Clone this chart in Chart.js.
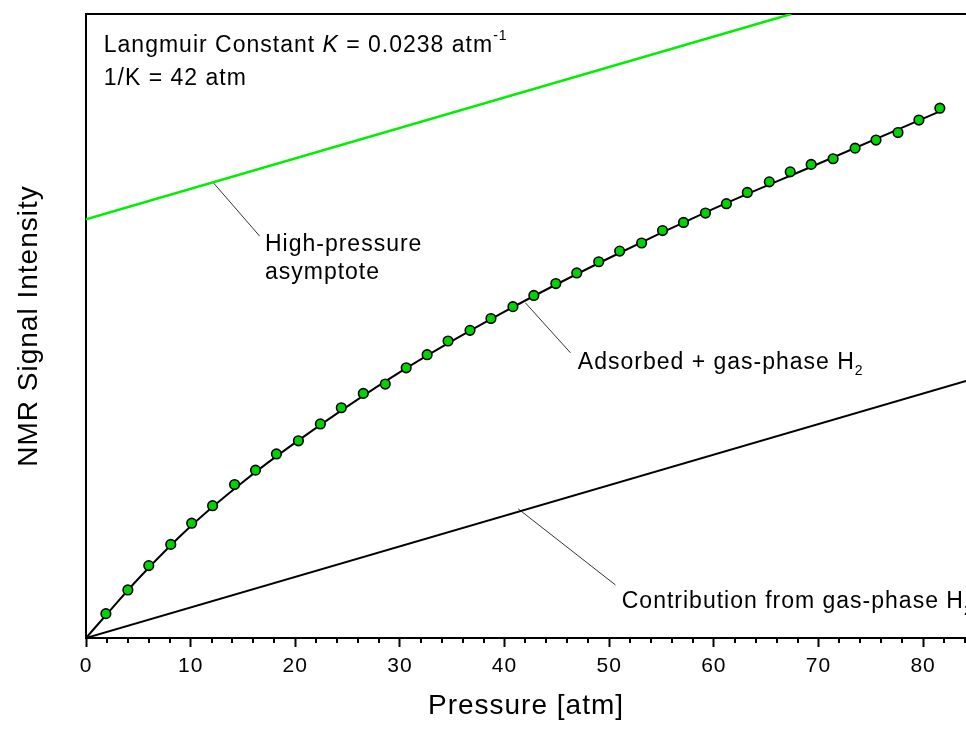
<!DOCTYPE html>
<html>
<head>
<meta charset="utf-8">
<script src="https://cdn.jsdelivr.net/npm/chart.js@4"></script>
<style>
  html, body { margin: 0; padding: 0; background: #fff; }
  #wrap { width: 966px; height: 740px; }
</style>
</head>
<body>
<div id="wrap"><canvas id="nmr-chart" width="966" height="740"></canvas></div>
<script>
// measured points (pressure in atm, signal in arbitrary units 0..100)
const pressure = [1.9, 4.0, 6.0, 8.1, 10.1, 12.1, 14.2, 16.2, 18.2, 20.3, 22.4, 24.4, 26.5, 28.6, 30.6, 32.6, 34.6, 36.7, 38.7, 40.8,
    42.8, 44.9, 46.9, 49.0, 51.0, 53.1, 55.1, 57.1, 59.2, 61.2, 63.2, 65.3, 67.3, 69.3, 71.4, 73.5, 75.5, 77.6, 79.6, 81.6];
const signal = [3.9, 7.7, 11.6, 15.0, 18.4, 21.2, 24.6, 26.9, 29.5, 31.6, 34.3, 36.9, 39.2, 40.7, 43.3, 45.4, 47.6, 49.3, 51.2, 53.1,
    54.9, 56.8, 58.5, 60.3, 62.0, 63.3, 65.3, 66.6, 68.1, 69.6, 71.4, 73.1, 74.7, 75.9, 76.8, 78.5, 79.8, 81.0, 83.0, 84.9];

// fitted curve
const fitP = [0, 2.5, 5, 10, 15, 20, 30, 40, 50, 60, 70, 81.6];
const fitS = [0, 4.8, 9.5, 17.9, 25.0, 31.3, 42.6, 52.3, 60.9, 68.8, 76.0, 84.4];

// high-pressure asymptote (green) and gas-phase contribution (black)
const asymP = [0, 67.4], asymS = [67.1, 100];
const gasP = [0, 84.1], gasS = [0, 41.2];

// leader lines from the curves to their labels
const leaderHigh = [[12.2, 72.9], [16.6, 64.4]];
const leaderAds = [[42.0, 53.7], [46.3, 45.7]];
const leaderGas = [[41.3, 20.7], [50.6, 8.5]];

const xTicks = [0, 10, 20, 30, 40, 50, 60, 70, 80];
const xMax = 84.1, yMax = 100;

const toXY = (xs, ys) => xs.map((x, i) => ({ x: x, y: ys[i] }));
const pairs = (arr) => arr.map(p => ({ x: p[0], y: p[1] }));

const FONT = "Arial, 'Liberation Sans', sans-serif";

// text labels, placed in data coordinates
const labels = [
    { x: 1.7, y: 95.0, runs: [["Langmuir Constant ", ""], ["K", "i"], [" = 0.0238 atm", ""], ["-1", "sup"]] },
    { x: 1.7, y: 89.7, runs: [["1/K = 42 atm", ""]] },
    { x: 17.1, y: 63.1, runs: [["High-pressure", ""]] },
    { x: 17.1, y: 58.6, runs: [["asymptote", ""]] },
    { x: 47.0, y: 44.2, runs: [["Adsorbed + gas-phase H", ""], ["2", "sub"]] },
    { x: 51.2, y: 5.8, runs: [["Contribution from gas-phase H", ""], ["2", "sub"]] },
];

// the original text is set a little wider than plain Arial
const spacingPlugin = {
    id: "spacing",
    beforeDraw(chart) { chart.ctx.letterSpacing = "1px"; }
};

const labelPlugin = {
    id: "labels",
    afterDatasetsDraw(chart) {
        const ctx = chart.ctx, xs = chart.scales.x, ys = chart.scales.y;
        ctx.save();
        ctx.fillStyle = "#000";
        ctx.textBaseline = "middle";
        ctx.textAlign = "left";
        labels.forEach(l => {
            let px = xs.getPixelForValue(l.x);
            const py = ys.getPixelForValue(l.y);
            l.runs.forEach(([t, s]) => {
                let dy = 0;
                if (s === "i") ctx.font = "italic 23px " + FONT;
                else if (s === "sup") { ctx.font = "14px " + FONT; dy = -9; }
                else if (s === "sub") { ctx.font = "14px " + FONT; dy = 9; }
                else ctx.font = "23px " + FONT;
                ctx.fillText(t, px, py + dy);
                px += ctx.measureText(t).width;
            });
        });
        ctx.restore();
    }
};

// minor ticks every 2 atm below the x axis
const minorTickPlugin = {
    id: "minorTicks",
    afterDraw(chart) {
        const ctx = chart.ctx, xs = chart.scales.x, bottom = chart.chartArea.bottom;
        ctx.save();
        ctx.strokeStyle = "#000";
        ctx.lineWidth = 2;
        for (let v = 2; v < xMax; v += 2) {
            if (v % 10 === 0) continue;
            const px = Math.round(xs.getPixelForValue(v));
            ctx.beginPath();
            ctx.moveTo(px, bottom);
            ctx.lineTo(px, bottom + 5);
            ctx.stroke();
        }
        ctx.restore();
    }
};

const lineDs = (data, color, width, order) => ({
    type: "line",
    data: data,
    borderColor: color,
    borderWidth: width,
    pointRadius: 0,
    showLine: true,
    fill: false,
    order: order,
});

new Chart(document.getElementById("nmr-chart").getContext("2d"), {
    type: "scatter",
    data: {
        datasets: [
            {
                label: "Data",
                data: toXY(pressure, signal),
                pointRadius: 4.8,
                pointBackgroundColor: "#00d400",
                pointBorderColor: "#000",
                pointBorderWidth: 1.6,
                order: 0,
            },
            Object.assign(lineDs(toXY(fitP, fitS), "#000", 2, 1), { cubicInterpolationMode: "monotone" }),
            lineDs(toXY(asymP, asymS), "#00ee00", 2.5, 2),
            lineDs(toXY(gasP, gasS), "#000", 2, 3),
            lineDs(pairs(leaderHigh), "#333", 1, 4),
            lineDs(pairs(leaderAds), "#333", 1, 4),
            lineDs(pairs(leaderGas), "#333", 1, 4),
        ],
    },
    options: {
        responsive: false,
        animation: false,
        layout: { padding: 0, autoPadding: false },
        plugins: { legend: { display: false }, tooltip: { enabled: false } },
        scales: {
            x: {
                type: "linear",
                position: "bottom",
                min: 0,
                max: xMax,
                afterBuildTicks: s => { s.ticks = xTicks.map(v => ({ value: v })); },
                afterFit: s => { s.height = 102; s.paddingLeft = 0; s.paddingRight = 0; },
                grid: { display: true, drawOnChartArea: false, drawTicks: true, tickLength: 9, tickWidth: 2, tickColor: "#000" },
                border: { display: true, color: "#000", width: 2 },
                ticks: { color: "#000", font: { family: FONT, size: 21 }, padding: 7, maxRotation: 0 },
                title: { display: true, text: "Pressure [atm]", color: "#000", font: { family: FONT, size: 28 }, padding: { top: 0, bottom: 17 } },
            },
            xTop: {
                type: "linear",
                position: "top",
                min: 0,
                max: xMax,
                afterFit: s => { s.height = 14; s.paddingLeft = 0; s.paddingRight = 0; },
                grid: { display: false, drawTicks: false },
                border: { display: true, color: "#000", width: 2 },
                ticks: { display: false },
            },
            y: {
                type: "linear",
                position: "left",
                min: 0,
                max: yMax,
                afterFit: s => { s.width = 86; },
                grid: { display: false, drawTicks: false },
                border: { display: true, color: "#000", width: 2 },
                ticks: { display: false },
                title: { display: true, text: "NMR Signal Intensity", color: "#000", font: { family: FONT, size: 28 }, padding: { top: 12, bottom: 0 } },
            },
        },
    },
    plugins: [spacingPlugin, labelPlugin, minorTickPlugin],
});
</script>
</body>
</html>
